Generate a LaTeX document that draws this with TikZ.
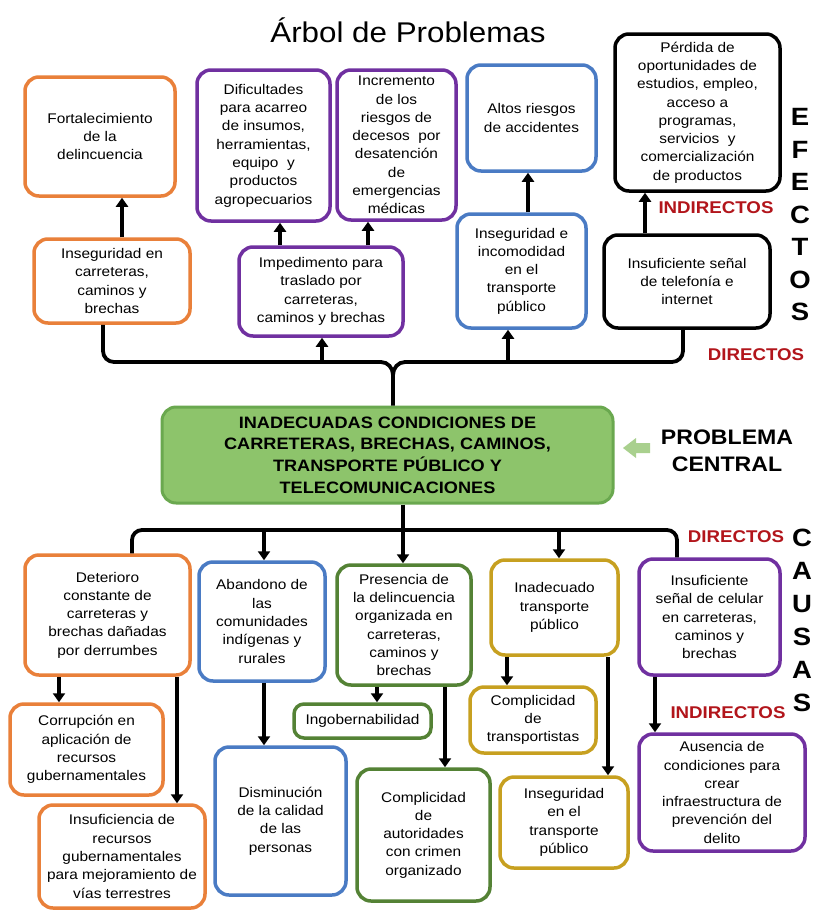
\documentclass[tikz,border=0pt]{standalone}
\usepackage{fontspec}
\setmainfont{Liberation Sans}[FakeStretch=1.1]
\usetikzlibrary{arrows.meta}
\definecolor{orangeC}{HTML}{E9803A}
\definecolor{purpleC}{HTML}{7030A0}
\definecolor{blueC}{HTML}{4A7BC4}
\definecolor{greenC}{HTML}{548235}
\definecolor{goldC}{HTML}{C7A020}
\definecolor{redC}{HTML}{B2151B}
\definecolor{cfill}{HTML}{8DC46B}
\definecolor{cdraw}{HTML}{6AA84F}
\definecolor{afill}{HTML}{A9D08E}
\newcommand{\boxfont}{\fontsize{14}{18.3}\selectfont}
\tikzset{
  box/.style={draw, line width=3.5pt, rounded corners=14pt, fill=white, align=center, inner sep=0pt, font=\boxfont},
  ob/.style={box, draw=orangeC},
  pb/.style={box, draw=purpleC},
  bb/.style={box, draw=blueC},
  gb/.style={box, draw=greenC},
  yb/.style={box, draw=goldC},
  kb/.style={box, draw=black},
  conn/.style={line width=3.8pt, black},
  arr/.style={conn, -{Triangle[width=12pt,length=9pt]}},
  redlab/.style={text=redC, font=\fontsize{17}{20}\selectfont\bfseries, inner sep=0pt},
  biglet/.style={font=\fontsize{25}{25}\selectfont\bfseries, inner sep=0pt},
}
\begin{document}
\begin{tikzpicture}[x=1pt,y=-1pt]
\fill[white] (0,0) rectangle (815,913);
\useasboundingbox (0,0) rectangle (815,913);

\node[font=\fontsize{28.5}{30}\selectfont] (title) at (408,30) {Árbol de Problemas};

% ---------- effects ----------
\node[ob, minimum width=150, minimum height=119] (T1) at (100,136.5) {Fortalecimiento\\de la\\delincuencia};
\node[ob, minimum width=156, minimum height=84] (T2) at (112,281) {Inseguridad en\\carreteras,\\caminos y\\brechas};
\node[pb, minimum width=133, minimum height=151] (T3) at (263.5,145.5) {Dificultades\\para acarreo\\de insumos,\\herramientas,\\equipo~ y\\productos\\agropecuarios};
\node[pb, minimum width=119, minimum height=150] (T4) at (396.5,145) {Incremento\\de los\\riesgos de\\decesos~ por\\desatención\\de\\emergencias\\médicas};
\node[pb, minimum width=164, minimum height=89] (T5) at (321,291.5) {Impedimento para\\traslado por\\carreteras,\\caminos y brechas};
\node[bb, minimum width=129, minimum height=106] (T6) at (531.5,118) {Altos riesgos\\de accidentes};
\node[bb, minimum width=129, minimum height=114] (T7) at (521.5,271) {Inseguridad e\\incomodidad\\en el\\transporte\\público};
\node[kb, minimum width=165, minimum height=157] (T8) at (697.5,112.5) {Pérdida de\\oportunidades de\\estudios, empleo,\\acceso a\\programas,\\servicios~ y\\comercialización\\de productos};
\node[kb, minimum width=166, minimum height=93] (T9) at (687,281.5) {Insuficiente señal\\de telefonía e\\internet};

\node[redlab] (ind1) at (716,208) {INDIRECTOS};
\node[redlab] (dir1) at (756,355) {DIRECTOS};

\foreach \l/\yy [count=\i] in {E/117,F/149.5,E/182,C/214.5,T/247,O/279.5,S/312}
  \node[biglet] (ef\i) at (800,\yy) {\l};

% ---------- central ----------
\node[draw=cdraw, fill=cfill, line width=3pt, rounded corners=14pt, minimum width=451, minimum height=96, align=center, inner sep=0pt,
  font=\fontsize{16.5}{21.7}\selectfont\bfseries] (C) at (387.5,455)
  {INADECUADAS CONDICIONES DE\\CARRETERAS, BRECHAS, CAMINOS,\\TRANSPORTE PÚBLICO Y\\TELECOMUNICACIONES};
\node[font=\fontsize{21}{27.5}\selectfont\bfseries, align=center, inner sep=0pt] (PC) at (727,451) {PROBLEMA\\CENTRAL};
\fill[afill] (623,448) -- (636,438) -- (636,443) -- (650,443) -- (650,453) -- (636,453) -- (636,458) -- cycle;

% ---------- causes ----------
\node[ob, minimum width=165, minimum height=120] (B1) at (107.5,615) {Deterioro\\constante de\\carreteras y\\brechas dañadas\\por derrumbes};
\node[ob, minimum width=153, minimum height=91] (B2) at (86.5,749.5) {Corrupción en\\aplicación de\\recursos\\gubernamentales};
\node[ob, minimum width=166, minimum height=103] (B3) at (122,856.5) {Insuficiencia de\\recursos\\gubernamentales\\para mejoramiento de\\vías terrestres};
\node[bb, minimum width=126, minimum height=119] (B4) at (262,621.5) {Abandono de\\las\\comunidades\\indígenas y\\rurales};
\node[bb, minimum width=131, minimum height=148] (B5) at (280.5,821) {Disminución\\de la calidad\\de las\\personas};
\node[gb, minimum width=134, minimum height=120] (B6) at (404,625) {Presencia de\\la delincuencia\\organizada en\\carreteras,\\caminos y\\brechas};
\node[gb, minimum width=137, minimum height=34, rounded corners=10pt] (B7) at (362.5,721) {Ingobernabilidad};
\node[gb, minimum width=133, minimum height=132] (B8) at (423.5,835) {Complicidad\\de\\autoridades\\con crimen\\organizado};
\node[yb, minimum width=127, minimum height=95] (B9) at (554.5,607.5) {Inadecuado\\transporte\\público};
\node[yb, minimum width=126, minimum height=66] (B10) at (533,720) {Complicidad\\de\\transportistas};
\node[yb, minimum width=128, minimum height=91] (B11) at (564,822.5) {Inseguridad\\en el\\transporte\\público};
\node[pb, minimum width=141, minimum height=116] (B12) at (709.5,617) {Insuficiente\\señal de celular\\en carreteras,\\caminos y\\brechas};
\node[pb, minimum width=166, minimum height=117] (B13) at (722,792.5) {Ausencia de\\condiciones para\\crear\\infraestructura de\\prevención del\\delito};

\node[redlab] (dir2) at (736,537) {DIRECTOS};
\node[redlab] (ind2) at (728,713) {INDIRECTOS};

\foreach \l/\yy [count=\i] in {C/538,A/571,U/604,S/637,A/670,S/703}
  \node[biglet] (ca\i) at (802,\yy) {\l};

% ---------- guide coordinates ----------
\foreach \xx in {59,103,122,132,177,264,280,322,368,377,403,445,507,508,528,559,608,645,655,677,683}
  \coordinate (x\xx) at (\xx,0);
\coordinate (hl) at (0,362);
\coordinate (bl) at (0,530);
\coordinate (cusp) at (393,375);

% ---------- effect connectors ----------
\draw[arr] (T2.north -| x122) -- (T1.south -| x122);
\draw[arr] (T5.north -| x280) -- (T3.south -| x280);
\draw[arr] (T5.north -| x368) -- (T4.south -| x368);
\draw[arr] (T7.north -| x528) -- (T6.south -| x528);
\draw[arr] (T9.north -| x645) -- (T8.south -| x645);

\draw[conn] (T2.south -| x103) -- (103,351) to[out=-90,in=180] (114,362) -- (381,362) to[out=0,in=90] (cusp) -- (C.north -| cusp);
\draw[conn] (T9.south -| x683) -- (683,351) to[out=-90,in=0] (672,362) -- (405,362) to[out=180,in=90] (cusp);
\draw[arr] (x322 |- hl) -- (T5.south -| x322);
\draw[arr] (x508 |- hl) -- (T7.south -| x508);

% ---------- cause connectors ----------
\draw[conn] (C.south -| x403) -- (x403 |- bl);
\draw[conn, rounded corners=10pt] (B1.north -| x132) -- (x132 |- bl) -- (x677 |- bl) -- (B12.north -| x677);
\draw[arr] (x264 |- bl) -- (B4.north -| x264);
\draw[arr] (x403 |- bl) -- (B6.north -| x403);
\draw[arr] (x559 |- bl) -- (B9.north -| x559);

\draw[arr] (B1.south -| x59) -- (B2.north -| x59);
\draw[arr] (B1.south -| x177) -- (B3.north -| x177);
\draw[arr] (B4.south -| x264) -- (B5.north -| x264);
\draw[arr] (B6.south -| x377) -- (B7.north -| x377);
\draw[arr] (B6.south -| x445) -- (B8.north -| x445);
\draw[arr] (B9.south -| x507) -- (B10.north -| x507);
\draw[arr] (B9.south -| x608) -- (B11.north -| x608);
\draw[arr] (B12.south -| x655) -- (B13.north -| x655);
\end{tikzpicture}
\end{document}
